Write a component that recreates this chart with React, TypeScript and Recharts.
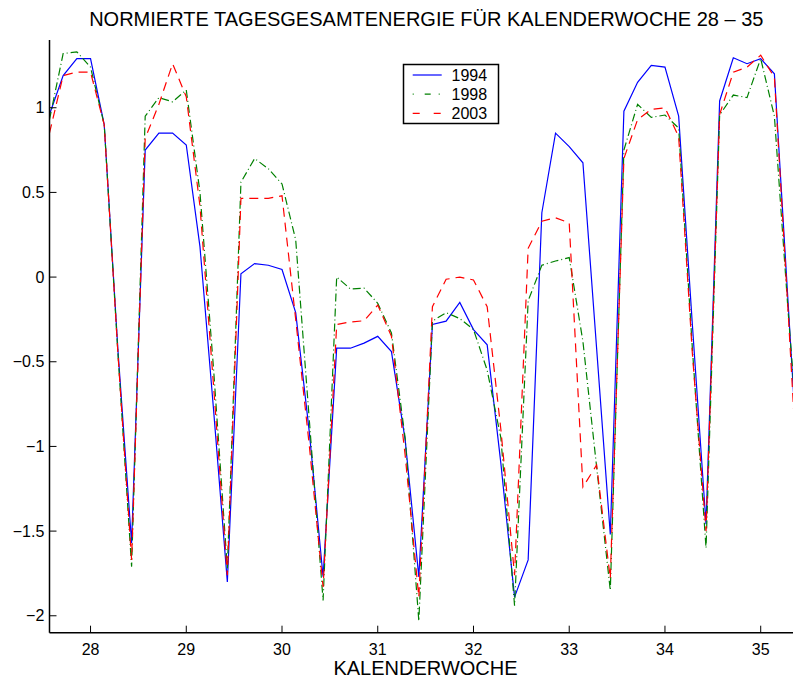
import React from "react";
import { LineChart, Line, XAxis, YAxis } from "recharts";

// Calendar-week position of each daily value (week + day/7)
const weekPos = [
  27.571, 27.714, 27.857, 28.0, 28.143, 28.286, 28.429,
  28.571, 28.714, 28.857, 29.0, 29.143, 29.286, 29.429,
  29.571, 29.714, 29.857, 30.0, 30.143, 30.286, 30.429,
  30.571, 30.714, 30.857, 31.0, 31.143, 31.286, 31.429,
  31.571, 31.714, 31.857, 32.0, 32.143, 32.286, 32.429,
  32.571, 32.714, 32.857, 33.0, 33.143, 33.286, 33.429,
  33.571, 33.714, 33.857, 34.0, 34.143, 34.286, 34.429,
  34.571, 34.714, 34.857, 35.0, 35.143, 35.286, 35.429,
];

const s1994 = [
  0.96, 1.19, 1.29, 1.29, 0.9, -0.43, -1.57,
  0.75, 0.85, 0.85, 0.78, 0.18, -0.79, -1.8,
  0.02, 0.08, 0.07, 0.045, -0.21, -0.92, -1.77,
  -0.42, -0.42, -0.39, -0.35, -0.44, -0.96, -1.77,
  -0.28, -0.26, -0.15, -0.31, -0.4, -1.1, -1.89,
  -1.67, 0.38, 0.85, 0.77, 0.675, -0.42, -1.52,
  0.98, 1.15, 1.25, 1.24, 0.95, -0.28, -1.46,
  1.04, 1.295, 1.26, 1.29, 1.2, -0.15, -1.5,
];

const s1998 = [
  0.93, 1.32, 1.33, 1.24, 0.9, -0.45, -1.71,
  0.95, 1.06, 1.035, 1.105, 0.5, -0.55, -1.72,
  0.56, 0.7, 0.64, 0.55, 0.22, -0.85, -1.91,
  0.0, -0.07, -0.065, -0.155, -0.33, -0.95, -2.03,
  -0.26, -0.21, -0.245, -0.31, -0.55, -0.95, -1.94,
  -0.14, 0.07, 0.095, 0.115, -0.38, -1.12, -1.85,
  0.75, 1.02, 0.943, 0.957, 0.88, -0.42, -1.6,
  0.957, 1.075, 1.06, 1.29, 0.95, -0.2, -1.25,
];

const s2003 = [
  0.85, 1.19, 1.21, 1.21, 0.9, -0.45, -1.67,
  0.82, 1.02, 1.26, 1.065, 0.42, -0.65, -1.76,
  0.465, 0.465, 0.465, 0.48, -0.25, -1.0, -1.83,
  -0.28, -0.265, -0.258, -0.165, -0.35, -1.05, -1.89,
  -0.175, -0.013, 0.0, -0.017, -0.175, -0.9, -1.76,
  0.17, 0.33, 0.35, 0.32, -1.24, -1.11, -1.78,
  0.7, 0.93, 0.99, 1.0, 0.83, -0.45, -1.5,
  0.96, 1.21, 1.24, 1.31, 1.18, -0.2, -1.65,
];

const xTicks = [28, 29, 30, 31, 32, 33, 34, 35];
const yTicks = [-2, -1.5, -1, -0.5, 0, 0.5, 1];

const seriesNames = ["1994", "1998", "2003"];
const seriesKeys = ["y1994", "y1998", "y2003"];
const seriesColors = ["#0000ff", "#008000", "#ff0000"];
const seriesDash = [undefined, "8 3 1 3", "9 6"];
const legendDash = [undefined, "1 11 6 8", "7 14"];

const titleText = "NORMIERTE TAGESGESAMTENERGIE FÜR KALENDERWOCHE 28 – 35";
const xLabelText = "KALENDERWOCHE";

const data = weekPos.map((x, i) => ({
  x,
  y1994: s1994[i],
  y1998: s1998[i],
  y2003: s2003[i],
}));

const FONT = "'Liberation Sans', Arial, Helvetica, sans-serif";

const fmtY = (v: number) => (v < 0 ? "\u2212" + String(Math.abs(v)) : String(v));

export default function App() {
  return (
    <>
      <style>{"html,body{margin:0;padding:0;overflow:hidden;}"}</style>
      <div
        style={{
          position: "relative",
          width: 793,
          height: 679,
          overflow: "hidden",
          background: "#fff",
        }}
      >
        <div style={{ position: "absolute", left: 8, top: 8 }}>
          <LineChart
            width={791}
            height={671}
            data={data}
            margin={{ top: 32, right: 0, bottom: 0, left: 0 }}
            style={{ fontFamily: FONT }}
          >
            <XAxis
              dataKey="x"
              type="number"
              domain={[27.5714, 35.4]}
              allowDataOverflow
              ticks={xTicks}
              height={46.3}
              tickSize={-7}
              tickMargin={17.6}
              axisLine={{ stroke: "#000", strokeWidth: 1.5 }}
              tickLine={{ stroke: "#000", strokeWidth: 1 }}
              tick={{ fill: "#000", fontSize: 16, fontFamily: FONT }}
              interval={0}
            />
            <XAxis
              xAxisId="top"
              dataKey="x"
              type="number"
              orientation="top"
              domain={[27.5714, 35.4]}
              allowDataOverflow
              ticks={xTicks}
              height={0}
              tickSize={-7}
              axisLine={{ stroke: "#000", strokeWidth: 1.5 }}
              tickLine={{ stroke: "#000", strokeWidth: 1 }}
              tick={false}
              interval={0}
            />
            <YAxis
              type="number"
              domain={[-2.1, 1.4]}
              allowDataOverflow
              ticks={yTicks}
              width={41.5}
              tickSize={-7}
              tickMargin={12.2}
              tickFormatter={fmtY}
              axisLine={{ stroke: "#000", strokeWidth: 1.5 }}
              tickLine={{ stroke: "#000", strokeWidth: 1 }}
              tick={{ fill: "#000", fontSize: 16, fontFamily: FONT }}
              interval={0}
            />
            {seriesKeys.map((k, i) => (
              <Line
                key={k}
                dataKey={k}
                name={seriesNames[i]}
                type="linear"
                stroke={seriesColors[i]}
                strokeWidth={1.2}
                strokeDasharray={seriesDash[i]}
                dot={false}
                activeDot={false}
                isAnimationActive={false}
              />
            ))}
          </LineChart>
        </div>
        <svg
          width={793}
          height={679}
          style={{ position: "absolute", left: 0, top: 0, pointerEvents: "none" }}
        >
          <text x={426.3} y={26} textAnchor="middle" fontSize={20} fontFamily={FONT} fill="#000">
            {titleText}
          </text>
          <text x={425.5} y={675} textAnchor="middle" fontSize={20} fontFamily={FONT} fill="#000">
            {xLabelText}
          </text>
          <rect x={403.5} y={64.5} width={95} height={59} fill="#fff" stroke="#000" strokeWidth={1.5} />
          {seriesNames.map((n, i) => {
            const cy = 75 + i * 19.2;
            return (
              <g key={n}>
                <line
                  x1={412.7}
                  x2={441.7}
                  y1={cy}
                  y2={cy}
                  stroke={seriesColors[i]}
                  strokeWidth={1.2}
                  strokeDasharray={legendDash[i]}
                />
                <text x={451.5} y={cy + 5.7} fontSize={16} fontFamily={FONT} fill="#000">
                  {n}
                </text>
              </g>
            );
          })}
        </svg>
      </div>
    </>
  );
}
